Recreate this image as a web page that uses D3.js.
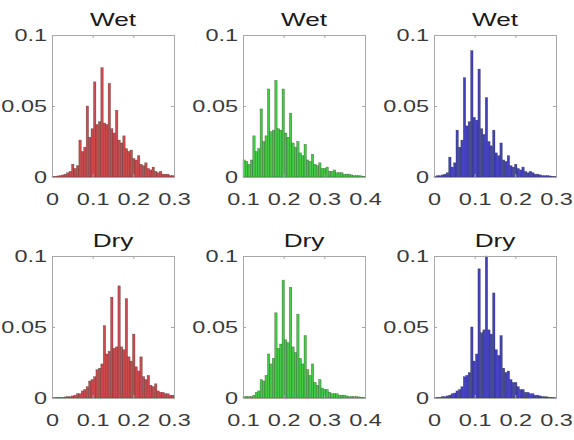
<!DOCTYPE html>
<html><head><meta charset="utf-8">
<script src="https://cdn.jsdelivr.net/npm/d3@7"></script>
<style>body{margin:0;background:#fff}svg{display:block}</style>
</head><body>
<svg id="c" width="574" height="440"></svg>
<script>
const titles = ["Wet","Wet","Wet","Dry","Dry","Dry"];
const xDomains = [[0,0.3],[0.1,0.4],[0,0.3],[0,0.3],[0.1,0.4],[0,0.3]];
const xTicks = [[0,0.1,0.2,0.3],[0.1,0.2,0.3,0.4],[0,0.1,0.2,0.3],[0,0.1,0.2,0.3],[0.1,0.2,0.3,0.4],[0,0.1,0.2,0.3]];
const yTicks = [0,0.05,0.1];
const colors = ["#cb4a4c","#46c946","#4242bc","#cb4a4c","#46c946","#4242bc"];
const binCount = 50;

const wetRed = [0.0005,0.0005,0.0008,0.001,0.0015,0.002,0.003,0.004,0.009,0.006,
0.008,0.026,0.018,0.021,0.050,0.028,0.034,0.067,0.037,0.039,
0.077,0.038,0.037,0.066,0.034,0.031,0.047,0.026,0.024,0.029,
0.020,0.018,0.019,0.013,0.012,0.015,0.009,0.008,0.010,0.006,
0.005,0.007,0.004,0.003,0.004,0.002,0.002,0.002,0.001,0.001];
const wetGreen = [0.012,0.011,0.009,0.012,0.029,0.018,0.020,0.048,0.025,0.029,
0.062,0.032,0.033,0.068,0.034,0.033,0.062,0.031,0.028,0.045,
0.024,0.021,0.025,0.017,0.015,0.023,0.012,0.011,0.016,0.009,
0.008,0.010,0.006,0.006,0.007,0.004,0.004,0.005,0.003,0.003,
0.003,0.002,0.002,0.002,0.0015,0.001,0.001,0.001,0.0008,0.0005];
const wetBlue = [0.0005,0.001,0.001,0.0015,0.002,0.003,0.014,0.007,0.010,0.033,
0.021,0.026,0.070,0.036,0.039,0.089,0.042,0.040,0.076,0.034,
0.030,0.056,0.025,0.022,0.033,0.017,0.015,0.024,0.012,0.011,
0.015,0.008,0.007,0.009,0.006,0.005,0.007,0.004,0.003,0.004,
0.003,0.002,0.002,0.0015,0.001,0.001,0.001,0.0008,0.0005,0.0005];
const dryRed = [0.0003,0.0003,0.0005,0.0005,0.0005,0.0008,0.001,0.001,0.0015,0.002,
0.003,0.003,0.005,0.006,0.008,0.012,0.013,0.015,0.020,0.021,
0.024,0.051,0.031,0.033,0.071,0.035,0.036,0.079,0.036,0.034,
0.070,0.029,0.026,0.045,0.022,0.019,0.029,0.015,0.013,0.016,
0.009,0.008,0.010,0.005,0.004,0.004,0.003,0.003,0.002,0.002];
const dryGreen = [0.001,0.001,0.001,0.001,0.002,0.004,0.005,0.013,0.012,0.016,
0.031,0.024,0.028,0.060,0.035,0.038,0.083,0.041,0.039,0.078,
0.036,0.032,0.059,0.028,0.024,0.044,0.020,0.016,0.024,0.011,
0.009,0.013,0.007,0.006,0.006,0.004,0.003,0.003,0.003,0.002,
0.002,0.002,0.0015,0.001,0.001,0.001,0.001,0.0008,0.0005,0.0005];
const dryBlue = [0.0003,0.0005,0.0005,0.001,0.001,0.0015,0.002,0.003,0.0035,0.005,
0.006,0.008,0.015,0.016,0.018,0.050,0.026,0.031,0.091,0.046,
0.048,0.100,0.048,0.045,0.074,0.034,0.030,0.044,0.021,0.018,
0.019,0.013,0.011,0.011,0.008,0.006,0.006,0.004,0.004,0.003,
0.003,0.002,0.002,0.0015,0.001,0.001,0.0008,0.0005,0.0005,0.0003];
const series = [wetRed, wetGreen, wetBlue, dryRed, dryGreen, dryBlue];

const svg = d3.select("#c");
const colLeft = [52, 243, 434], rowTop = [35, 256];
const W = 122, H = 142;
const font = "'Liberation Sans', Arial, sans-serif";
const SX = 1.38; // horizontal stretch of glyphs seen in the reference

function stretch(sel, tx, ty) {
  sel.attr("x", 0).attr("y", 0)
     .attr("transform", function(d) { const p = tx(d); return `translate(${p[0]},${p[1]}) scale(${SX},1)`; });
}

series.forEach((vals, k) => {
  const ox = colLeft[k % 3], oy = rowTop[Math.floor(k / 3)];
  const g = svg.append("g").attr("transform", `translate(${ox},${oy})`);
  const x = d3.scaleLinear().domain(xDomains[k]).range([0, W]);
  const y = d3.scaleLinear().domain([0, 0.1]).range([H, 0]);
  const bw = (xDomains[k][1] - xDomains[k][0]) / binCount;
  const bins = vals.map((v, i) => ({x0: xDomains[k][0] + i * bw, x1: xDomains[k][0] + (i + 1) * bw, v}));

  g.append("rect").attr("width", W).attr("height", H).attr("fill", "#fff");
  g.selectAll("rect.bar").data(bins).join("rect").attr("class", "bar")
    .attr("x", d => x(d.x0)).attr("width", d => x(d.x1) - x(d.x0))
    .attr("y", d => y(d.v)).attr("height", d => H - y(d.v))
    .attr("fill", colors[k]).attr("stroke", "#222").attr("stroke-opacity", 0.5).attr("stroke-width", 0.5);

  const xa = g.append("g").attr("transform", `translate(0,${H})`)
    .call(d3.axisBottom(x).tickValues(xTicks[k]).tickSize(-3).tickFormat(d => d === 0 ? "0" : d3.format(".1f")(d)));
  const xt = g.append("g").call(d3.axisTop(x).tickValues(xTicks[k]).tickSize(-3).tickFormat(""));
  const ya = g.append("g").call(d3.axisLeft(y).tickValues(yTicks).tickSize(-3).tickFormat(d => d === 0 ? "0" : String(d)));
  const yr = g.append("g").attr("transform", `translate(${W},0)`).call(d3.axisRight(y).tickValues(yTicks).tickSize(-3).tickFormat(""));
  [xa, xt, ya, yr].forEach(a => {
    a.select(".domain").attr("stroke", "#a8a8a8").attr("stroke-width", 1);
    a.selectAll(".tick line").attr("stroke", "#a8a8a8");
    a.selectAll("text").attr("fill", "#3a3a3a").style("font-family", font).style("font-size", "17px");
  });
  stretch(xa.selectAll(".tick text").attr("dy", "0.71em"), () => [0, 16]);
  stretch(ya.selectAll(".tick text").attr("dy", "0.35em").attr("text-anchor", "end"), () => [-5, 0]);

  g.append("text").attr("text-anchor", "middle")
    .attr("transform", `translate(${W / 2},-9) scale(${SX},1)`)
    .style("font-family", font).style("font-size", "19px").attr("fill", "#1a1a1a").text(titles[k]);
});
</script>
</body></html>
